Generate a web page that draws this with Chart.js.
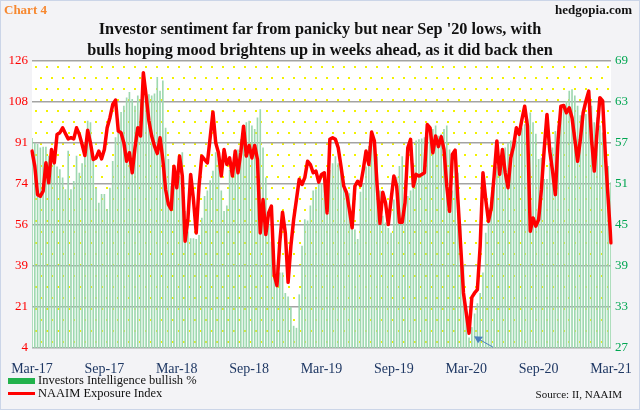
<!DOCTYPE html>
<html>
<head>
<meta charset="utf-8">
<script src="https://cdn.jsdelivr.net/npm/chart.js@4/dist/chart.umd.min.js"></script>
<style>
html, body { margin: 0; padding: 0; }
body {
  width: 640px; height: 410px; overflow: hidden; position: relative;
  font-family: "Liberation Serif", "Times New Roman", serif;
  background: #f3f3f6;
}
#frame { position: absolute; left: 0; top: 0; width: 638px; height: 408px; border: 1px solid #cbd5e8; }
#wrap { position: absolute; left: 0; top: 0; width: 640px; height: 410px; }
.txt { position: absolute; white-space: nowrap; }
#tag { left: 4px; top: 2px; color: #f7882f; font-weight: bold; font-size: 13px; }
#site { right: 8px; top: 2px; color: #111; font-weight: bold; font-size: 13px; }
#title { left: 0; width: 640px; top: 18px; text-align: center; font-weight: bold; font-size: 16.3px; line-height: 21px; color: #111; }
#legend { left: 8px; top: 374px; font-size: 12.5px; color: #111; line-height: 13px; }
#legend div { display: flex; align-items: center; height: 13px; }
#legend span.sw { display: inline-block; width: 27px; margin-right: 3px; }
#source { right: 18px; top: 388px; font-size: 11px; color: #111; }
</style>
</head>
<body>
<div id="frame"></div>
<div id="wrap"><canvas id="chart"></canvas></div>
<div class="txt" id="tag">Chart 4</div>
<div class="txt" id="site">hedgopia.com</div>
<div class="txt" id="title">Investor sentiment far from panicky but near Sep '20 lows, with<br>bulls hoping mood brightens up in weeks ahead, as it did back then</div>
<div class="txt" id="legend">
  <div><span class="sw" style="height:6px;background:#22b24c"></span>Investors Intelligence bullish %</div>
  <div><span class="sw" style="height:3px;background:#ff0000"></span>NAAIM Exposure Index</div>
</div>
<div class="txt" id="source">Source: II, NAAIM</div>
<script>
// weekly readings, Mar 2017 - Mar 2021
var naaim = [
  87.7, 81.3, 69.2, 68.5, 70.7, 82.7, 74.2, 88.4, 82.7, 94.8, 95.5, 97.6, 95.2, 92.9, 93.4, 92.9, 97.6, 94.8, 90.5, 85.8,
  96.6, 91.2, 84.1, 84.8, 87.7, 84.4, 88.4, 97.6, 101.9, 107.5, 109.4, 96.2, 95.5, 91.2, 83.4, 87.0, 78.5, 89.1, 97.6, 94.1,
  121.0, 111.1, 100.5, 94.1, 89.8, 86.7, 93.4, 84.1, 71.4, 65.0, 62.9, 81.3, 72.1, 85.6,
  77.1, 49.4, 58.6, 77.8, 67.1, 52.9, 72.8, 85.6, 84.1, 82.7, 93.4, 104.3, 91.2, 87.0, 77.1, 88.4, 82.0, 84.8, 77.1, 87.7,
  78.5, 87.0, 98.3, 85.6, 90.1, 84.8, 90.1, 84.1, 52.9, 67.1, 52.2, 61.4, 64.3, 35.2, 30.5, 48.7, 61.7, 52.9, 31.9, 47.3,
  58.6, 67.1, 75.7, 73.5, 76.4, 83.4, 82.0, 78.5, 79.2, 74.5, 77.8, 78.5,
  61.4, 92.7, 93.4, 92.7, 89.1, 81.3, 72.8, 70.0, 62.9, 55.1, 72.8, 74.9, 73.1, 79.9, 87.7, 82.0, 95.8, 92.0, 72.8, 57.0,
  70.2, 65.7, 56.5, 67.1, 77.1, 72.8, 57.5, 57.5, 65.7, 89.1, 92.7, 72.8, 77.8, 77.1, 77.8, 78.5, 99.0, 97.6, 87.0, 94.1,
  89.6, 93.8, 88.4, 72.8, 62.1, 86.3, 88.1, 67.1, 47.3, 27.4, 18.9, 10.3,
  25.5, 27.4, 28.8, 47.3, 78.5, 67.1, 57.9, 63.6, 77.1, 92.0, 77.8, 88.4, 78.5, 72.1, 84.8, 89.8, 97.6, 94.8, 101.2, 106.8,
  98.3, 53.6, 59.3, 55.8, 58.6, 71.4, 88.4, 103.3, 87.7, 79.2, 69.2, 92.7, 106.8, 107.1, 104.0, 106.1, 101.9, 92.7, 83.4, 92.7,
  104.0, 109.0, 113.2, 92.7, 79.2, 96.2, 110.4, 109.0, 85.6, 67.1, 48.7
];
var iiBulls = [
  57.7, 57.0, 56.8, 56.3, 56.4, 56.4, 55.1, 55.8, 54.6, 53.5, 53.1, 51.9, 50.2, 55.8, 50.2, 51.4, 55.1, 52.6, 54.0, 56.5,
  60.2, 60.0, 55.0, 50.4, 48.2, 49.5, 49.5, 47.3, 50.4, 54.3, 57.8, 60.5, 61.5, 62.4, 63.6, 64.4, 63.4, 62.4, 63.9, 63.4,
  65.8, 64.1, 64.1, 63.9, 64.2, 66.6, 64.6, 66.1, 59.2, 54.6, 50.7, 52.6, 52.1, 52.0,
  55.6, 47.0, 44.0, 43.0, 43.0, 42.9, 43.5, 46.0, 49.2, 50.0, 51.5, 52.9, 55.6, 54.6, 50.0, 47.0, 47.8, 53.0, 52.2, 54.0,
  56.0, 57.5, 59.0, 60.0, 60.2, 59.5, 59.0, 60.7, 61.9, 56.3, 51.9, 44.8, 42.5, 40.0, 39.0, 38.0, 38.0, 35.0, 34.5, 33.0,
  30.2, 29.9, 34.8, 41.9, 45.8, 45.6, 47.8, 50.0, 50.2, 52.0, 51.0, 52.6,
  51.0, 53.0, 54.0, 55.0, 54.0, 53.0, 50.4, 49.8, 49.6, 47.0, 44.3, 42.9, 49.8, 51.0, 53.5, 56.5, 56.8, 57.5, 55.0, 50.0,
  46.3, 45.3, 44.5, 43.8, 48.7, 52.0, 53.6, 55.0, 51.5, 49.2, 50.0, 54.0, 57.3, 57.5, 57.6, 57.8, 58.0, 58.3, 59.0, 59.5,
  58.0, 58.3, 59.0, 59.5, 56.0, 50.0, 54.6, 52.6, 44.8, 39.0, 33.0, 28.5,
  30.0, 32.0, 33.5, 35.0, 38.0, 43.8, 47.5, 49.0, 51.7, 53.5, 55.0, 54.6, 56.3, 57.0, 57.3, 57.3, 57.3, 58.5, 59.2, 59.7,
  60.5, 61.4, 60.0, 58.3, 54.6, 54.8, 51.7, 51.7, 54.0, 56.3, 58.7, 59.5, 61.4, 62.5, 63.1, 64.6, 64.8, 63.9, 62.4, 61.0,
  60.7, 61.2, 62.4, 62.4, 60.0, 60.7, 59.5, 58.5, 55.6, 53.6, 51.2
];
var xTickLabels = ['Mar-17', 'Sep-17', 'Mar-18', 'Sep-18', 'Mar-19', 'Sep-19', 'Mar-20', 'Sep-20', 'Mar-21'];
var leftTickLabels = ['4', '21', '39', '56', '74', '91', '108', '126'];
var weeks = naaim.map(function (v, i) { return i; });

var serif = 'Liberation Serif';

// white plot area with yellow dot pattern
var plotBg = {
  id: 'plotBg',
  beforeDraw: function (chart) {
    var c = chart.ctx, a = chart.chartArea;
    c.save();
    c.fillStyle = '#ffffff';
    c.fillRect(a.left, a.top, a.right - a.left, a.bottom - a.top);
    c.fillStyle = '#f2f200';
    var row = 0;
    for (var y = a.top + 5; y < a.bottom - 2; y += 11, row++) {
      for (var x = a.left + (row % 2 ? 8 : 2.5); x < a.right - 1; x += 11) {
        c.fillRect(Math.round(x), Math.round(y), 2, 2);
      }
    }
    c.restore();
  }
};

// little arrow pointing at the NAAIM low
var lowArrow = {
  id: 'lowArrow',
  afterDatasetsDraw: function (chart) {
    var lo = Math.min.apply(null, naaim);
    var idx = naaim.indexOf(lo);
    var px = chart.scales.x.getPixelForValue(idx) + 5;
    var py = chart.scales.y.getPixelForValue(lo) + 3;
    var c = chart.ctx;
    c.save();
    c.strokeStyle = '#4f81bd';
    c.fillStyle = '#4f81bd';
    c.lineWidth = 1;
    c.beginPath();
    c.moveTo(px + 19, py + 11);
    c.lineTo(px + 4, py + 2.5);
    c.stroke();
    c.beginPath();
    c.moveTo(px, py);
    c.lineTo(px + 9, py + 0.5);
    c.lineTo(px + 4, py + 7);
    c.closePath();
    c.fill();
    c.restore();
  }
};

new Chart(document.getElementById('chart'), {
  data: {
    labels: weeks,
    datasets: [{
      type: 'line',
      label: 'NAAIM Exposure Index',
      data: naaim,
      yAxisID: 'y',
      borderColor: '#ff0000',
      borderWidth: 3.5,
      pointRadius: 0,
      tension: 0,
      borderJoinStyle: 'round',
      borderCapStyle: 'round',
      order: 1
    }, {
      type: 'bar',
      label: 'Investors Intelligence bullish %',
      data: iiBulls,
      yAxisID: 'y2',
      backgroundColor: '#9ed8b0',
      barThickness: 1,
      order: 2
    }]
  },
  options: {
    responsive: true,
    maintainAspectRatio: false,
    animation: false,
    layout: { padding: { top: 61, left: 0, right: 0, bottom: 0 } },
    plugins: { legend: { display: false }, tooltip: { enabled: false } },
    scales: {
      x: {
        offset: false,
        grid: { display: false },
        border: { display: false },
        ticks: {
          autoSkip: false, maxRotation: 0, minRotation: 0, padding: 5,
          color: '#1f3864', font: { family: serif, size: 14 },
          callback: function (v, i) { return i % 26 === 0 ? xTickLabels[i / 26] : ''; }
        },
        afterFit: function (s) { s.height = 62; }
      },
      y: {
        position: 'left',
        min: 4, max: 126,
        afterBuildTicks: function (s) {
          var n = leftTickLabels.length - 1;
          s.ticks = leftTickLabels.map(function (t, k) { return { value: s.min + k * (s.max - s.min) / n }; });
        },
        ticks: {
          color: '#ff0000', font: { family: serif, size: 13 }, padding: 4,
          callback: function (v, k) { return leftTickLabels[k]; }
        },
        grid: { color: '#a3a3a3', lineWidth: 1.5, drawTicks: false },
        border: { display: false },
        afterFit: function (s) { s.width = 32; }
      },
      y2: {
        position: 'right',
        min: 27, max: 69,
        ticks: { stepSize: 6, color: '#00a651', font: { family: serif, size: 13 }, padding: 4 },
        grid: { display: false, drawTicks: false },
        border: { display: false },
        afterFit: function (s) { s.width = 29; }
      }
    }
  },
  plugins: [plotBg, lowArrow]
});
</script>
</body>
</html>
